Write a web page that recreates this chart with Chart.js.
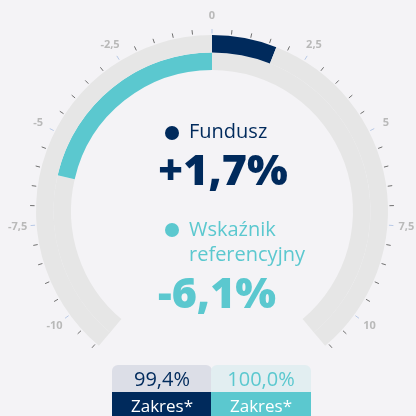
<!DOCTYPE html>
<html>
<head>
<meta charset="utf-8">
<script src="https://cdn.jsdelivr.net/npm/chart.js@4/dist/chart.umd.min.js"></script>
<style>
  html, body { margin: 0; padding: 0; background: #f4f3f6; }
  #wrap { position: relative; width: 416px; height: 416px; overflow: hidden; font-family: "Open Sans", sans-serif; }
  #gauge { position: absolute; left: 0; top: 0; }
  .lbl { position: absolute; white-space: nowrap; }
  .big { font-size: 43px; line-height: 43px; font-weight: 800; }
  .dot { position: absolute; width: 14px; height: 14px; border-radius: 50%; }
  .box { position: absolute; width: 100px; text-align: center; }
  .box .top { height: 27px; line-height: 27px; font-size: 20px; border-radius: 6px 6px 0 0; }
  .box .bot { height: 27px; line-height: 27px; font-size: 17px; color: #fff; }
</style>
</head>
<body>
<div id="wrap">
  <canvas id="gauge" width="416" height="416"></canvas>

  <div class="dot" style="left:165px;top:126px;background:#002a5c"></div>
  <div class="lbl" style="left:189px;top:121px;font-size:20px;line-height:20px;color:#002a5c">Fundusz</div>
  <div class="lbl big" id="fundVal" style="left:158px;top:147px;color:#002a5c"></div>

  <div class="dot" style="left:165px;top:223px;background:#5bc8cf"></div>
  <div class="lbl" style="left:189px;top:216px;font-size:20px;line-height:25px;color:#5bc8cf">Wskaźnik<br>referencyjny</div>
  <div class="lbl big" id="benchVal" style="left:158px;top:270px;color:#5bc8cf"></div>

  <div class="box" style="left:112px;top:365px">
    <div class="top" id="fundRange" style="background:#dcdee7;color:#002a5c"></div>
    <div class="bot" style="background:#002a5c">Zakres*</div>
  </div>
  <div class="box" style="left:211px;top:365px">
    <div class="top" id="benchRange" style="background:#e2eef1;color:#5bc8cf"></div>
    <div class="bot" style="background:#5bc8cf">Zakres*</div>
  </div>
</div>

<script>
// values
const fundValue = 1.7;
const benchValue = -6.1;
const fundRangeValue = 99.4;
const benchRangeValue = 100.0;

// gauge scale
const tickValues = [-10, -7.5, -5, -2.5, 0, 2.5, 5, 7.5, 10];
const tickLabels = ['-10', '-7,5', '-5', '-2,5', '0', '2,5', '5', '7,5', '10'];
const ringMin = -11.1;
const ringMax = 11.1;
const arcDegrees = 280;

const navy = '#002a5c';
const teal = '#5bc8cf';
const ringGray = '#e6e6e6';

const degPerUnit = arcDegrees / (ringMax - ringMin);
const gapUnits = (360 - arcDegrees) / degPerUnit;

function plFmt(v, digits) {
  return v.toFixed(digits).replace('.', ',');
}

document.getElementById('fundVal').textContent = (fundValue > 0 ? '+' : '') + plFmt(fundValue, 1) + '%';
document.getElementById('benchVal').textContent = (benchValue > 0 ? '+' : '') + plFmt(benchValue, 1) + '%';
document.getElementById('fundRange').textContent = plFmt(fundRangeValue, 1) + '%';
document.getElementById('benchRange').textContent = plFmt(benchRangeValue, 1) + '%';

// segments of one ring: gray up to the lower end, colour between 0 and value, gray to the end
function ringSegments(v) {
  const lo = Math.min(0, v), hi = Math.max(0, v);
  return [lo - ringMin, hi - lo, ringMax - hi, gapUnits];
}

const gaugeTicks = {
  id: 'gaugeTicks',
  afterDatasetsDraw(chart) {
    const arc = chart.getDatasetMeta(0).data[0];
    const cx = arc.x, cy = arc.y, r = arc.outerRadius;
    const ctx = chart.ctx;
    const ang = v => (-90 + v * degPerUnit) * Math.PI / 180;
    ctx.save();
    // minor ticks every 0.5
    for (let i = -22; i <= 22; i++) {
      const v = i / 2;
      const major = tickValues.includes(v);
      const a = ang(v);
      ctx.strokeStyle = major ? '#b8c9e6' : '#6f6f6f';
      ctx.lineWidth = 1;
      ctx.beginPath();
      ctx.moveTo(cx + Math.cos(a) * (r + 1.5), cy + Math.sin(a) * (r + 1.5));
      ctx.lineTo(cx + Math.cos(a) * (r + 6), cy + Math.sin(a) * (r + 6));
      ctx.stroke();
    }
    ctx.fillStyle = '#b9b9b9';
    ctx.font = 'bold 11px "Open Sans"';
    ctx.textAlign = 'center';
    ctx.textBaseline = 'middle';
    tickValues.forEach((v, i) => {
      const a = ang(v);
      ctx.fillText(tickLabels[i], cx + Math.cos(a) * 195, cy + Math.sin(a) * 195);
    });
    ctx.restore();
  }
};

new Chart(document.getElementById('gauge'), {
  type: 'doughnut',
  data: {
    labels: ['a', 'b', 'c', 'gap'],
    datasets: [
      {
        data: ringSegments(fundValue),
        backgroundColor: [ringGray, navy, ringGray, 'rgba(0,0,0,0)'],
        borderWidth: 0,
        hoverOffset: 0
      },
      {
        data: ringSegments(benchValue),
        backgroundColor: [ringGray, teal, ringGray, 'rgba(0,0,0,0)'],
        borderWidth: 0,
        hoverOffset: 0
      }
    ]
  },
  options: {
    responsive: false,
    animation: false,
    rotation: -arcDegrees / 2,
    circumference: 360,
    cutout: '80.1%',
    layout: { padding: { left: 36, right: 28, top: 35, bottom: 29 } },
    plugins: { legend: { display: false }, tooltip: { enabled: false } },
    events: []
  },
  plugins: [gaugeTicks]
});
</script>
</body>
</html>
